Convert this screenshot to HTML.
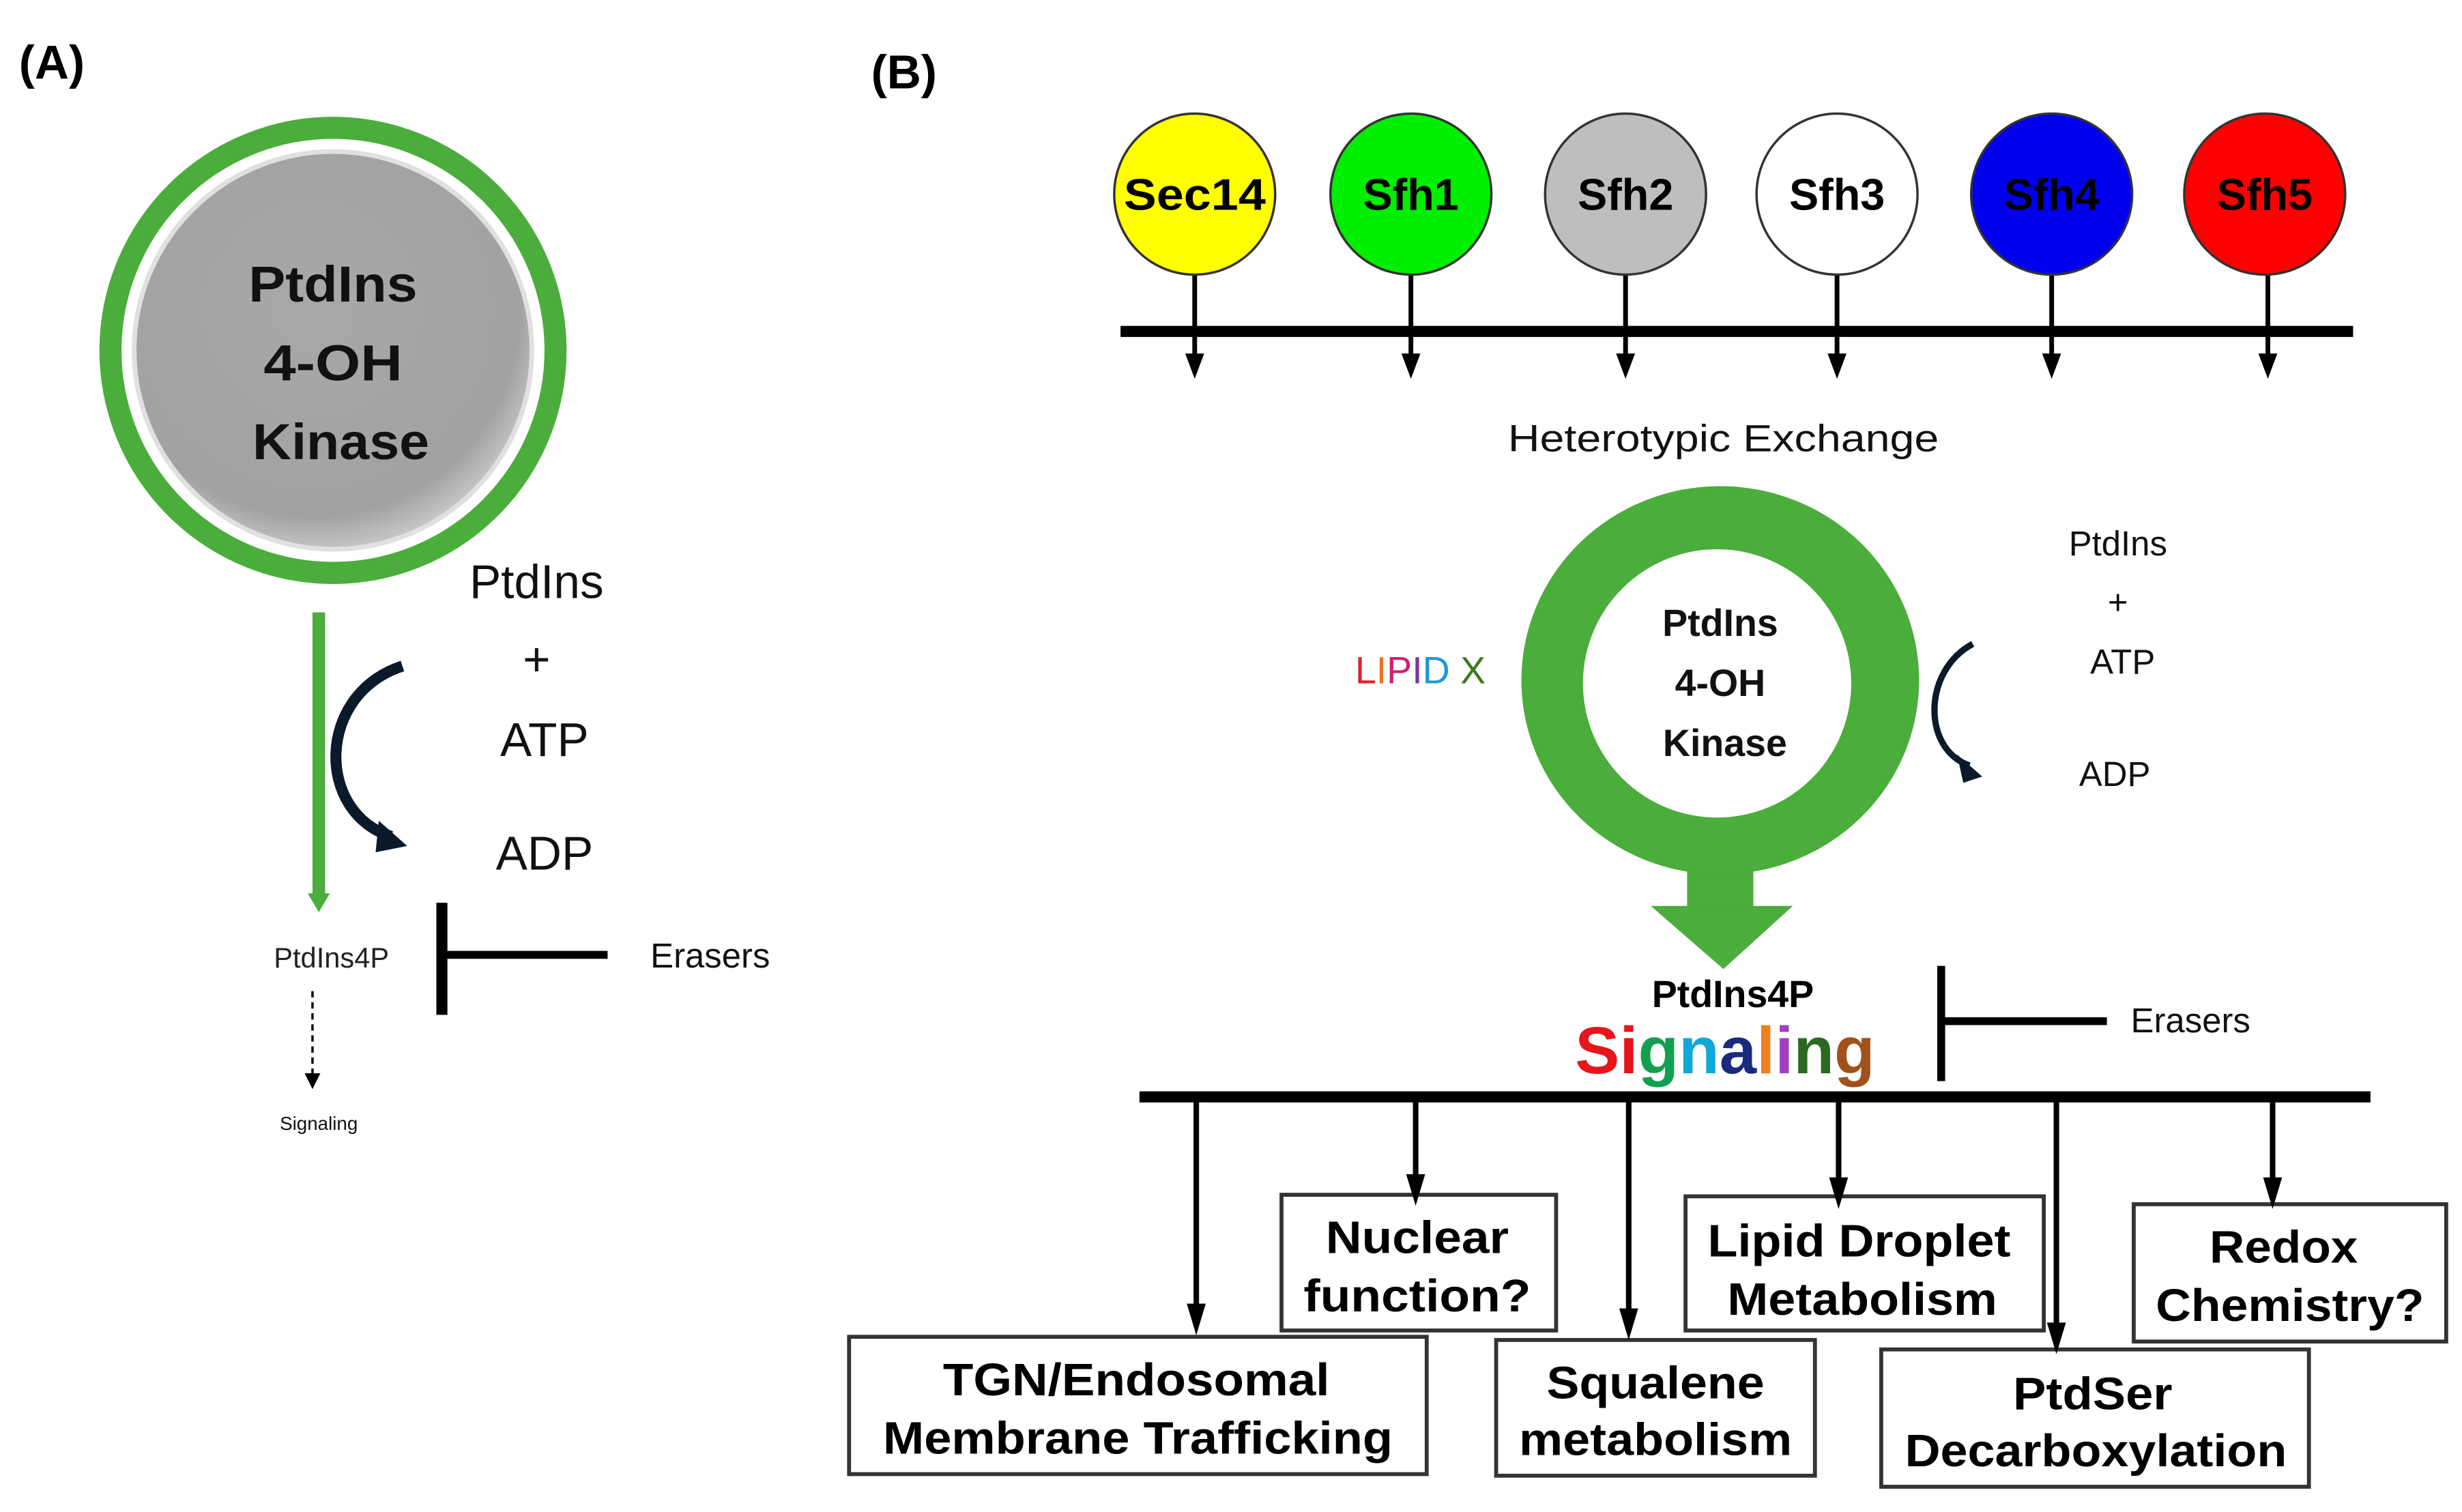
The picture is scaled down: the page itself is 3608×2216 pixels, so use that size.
<!DOCTYPE html>
<html><head><meta charset="utf-8"><style>html,body{margin:0;padding:0;background:#fff}svg{display:block}</style></head>
<body>
<svg width="3608" height="2216" viewBox="0 0 1560 958" preserveAspectRatio="none" xmlns="http://www.w3.org/2000/svg" font-family="Liberation Sans, DejaVu Sans, sans-serif">
<defs>
<radialGradient id="gg" cx="0.45" cy="0.4" r="0.65">
<stop offset="0" stop-color="#a8a8a8"/><stop offset="0.8" stop-color="#a2a2a2"/><stop offset="1" stop-color="#d8d8d8"/>
</radialGradient>
</defs>
<rect width="1560" height="958" fill="#fff"/>

<!-- Panel A -->
<text x="12" y="50" font-size="30" font-weight="bold">(A)</text>
<circle cx="211" cy="222" r="141" fill="none" stroke="#4bad3b" stroke-width="14"/>
<circle cx="211" cy="222" r="126" fill="url(#gg)" stroke="#e0e0e0" stroke-width="3"/>
<g font-size="32" font-weight="bold" text-anchor="middle" fill="#111" lengthAdjust="spacingAndGlyphs">
<text x="211" y="191" textLength="107" lengthAdjust="spacingAndGlyphs">PtdIns</text><text x="211" y="241" textLength="88" lengthAdjust="spacingAndGlyphs">4-OH</text><text x="216" y="291" textLength="112" lengthAdjust="spacingAndGlyphs">Kinase</text></g>
<line x1="202" y1="388" x2="202" y2="568" stroke="#4bad3b" stroke-width="8"/>
<path d="M195,566 L209,566 L202,578 Z" fill="#4bad3b"/>
<path d="M255,422 C200,440 200,515 248,530" fill="none" stroke="#0b1a2a" stroke-width="7"/>
<path d="M240,520 L258,536 L238,540 Z" fill="#0b1a2a"/>
<g font-size="30" text-anchor="middle" fill="#111">
<text x="340" y="379">PtdIns</text><text x="340" y="428">+</text><text x="345" y="479">ATP</text><text x="345" y="551">ADP</text></g>
<text x="210" y="613" font-size="18" text-anchor="middle" fill="#222">PtdIns4P</text>
<line x1="280" y1="572" x2="280" y2="643" stroke="#000" stroke-width="7"/>
<line x1="280" y1="605" x2="385" y2="605" stroke="#000" stroke-width="5"/>
<text x="450" y="613" font-size="22" text-anchor="middle" fill="#111">Erasers</text>
<line x1="198" y1="628" x2="198" y2="680" stroke="#000" stroke-width="1.5" stroke-dasharray="4,3"/>
<path d="M193,680 L203,680 L198,690 Z" fill="#000"/>
<text x="202" y="716" font-size="12" text-anchor="middle" fill="#111">Signaling</text>

<!-- Panel B -->
<text x="552" y="56" font-size="30" font-weight="bold">(B)</text>
<g stroke="#000" stroke-width="3">
<line x1="757" y1="174" x2="757" y2="232"/>
<line x1="894" y1="174" x2="894" y2="232"/>
<line x1="1030" y1="174" x2="1030" y2="232"/>
<line x1="1164" y1="174" x2="1164" y2="232"/>
<line x1="1300" y1="174" x2="1300" y2="232"/>
<line x1="1437" y1="174" x2="1437" y2="232"/>
</g>
<g fill="#000">
<path d="M751,224 L763,224 L757,240 Z"/>
<path d="M888,224 L900,224 L894,240 Z"/>
<path d="M1024,224 L1036,224 L1030,240 Z"/>
<path d="M1158,224 L1170,224 L1164,240 Z"/>
<path d="M1294,224 L1306,224 L1300,240 Z"/>
<path d="M1431,224 L1443,224 L1437,240 Z"/>
</g>
<line x1="710" y1="210" x2="1491" y2="210" stroke="#000" stroke-width="7"/>
<g stroke="#333" stroke-width="1.5">
<circle cx="757" cy="123" r="51" fill="#ffff00"/>
<circle cx="894" cy="123" r="51" fill="#00ee00"/>
<circle cx="1030" cy="123" r="51" fill="#bebebe"/>
<circle cx="1164" cy="123" r="51" fill="#fff"/>
<circle cx="1300" cy="123" r="51" fill="#0000ee"/>
<circle cx="1435" cy="123" r="51" fill="#ff0000"/>
</g>
<g font-size="28" font-weight="bold" text-anchor="middle" fill="#000">
<text x="757" y="133" textLength="90" lengthAdjust="spacingAndGlyphs">Sec14</text><text x="894" y="133">Sfh1</text><text x="1030" y="133">Sfh2</text>
<text x="1164" y="133">Sfh3</text><text x="1300" y="133">Sfh4</text><text x="1435" y="133">Sfh5</text></g>
<text x="1092" y="286" font-size="24" text-anchor="middle" fill="#111" textLength="273" lengthAdjust="spacingAndGlyphs">Heterotypic Exchange</text>

<!-- green ring with arrow -->
<rect x="1069" y="540" width="42" height="36" fill="#4bad3b"/>
<path d="M1046,574 L1136,574 L1092,614 Z" fill="#4bad3b"/>
<ellipse cx="1090" cy="431" rx="126" ry="123" fill="#4bad3b"/>
<ellipse cx="1088" cy="433" rx="85" ry="85" fill="#fff"/>
<g font-size="24" font-weight="bold" text-anchor="middle" fill="#111">
<text x="1090" y="403">PtdIns</text><text x="1090" y="441">4-OH</text><text x="1093" y="479">Kinase</text></g>
<text x="900" y="433" font-size="24" text-anchor="middle"><tspan fill="#e0202a">L</tspan><tspan fill="#f07020">I</tspan><tspan fill="#d02070">P</tspan><tspan fill="#8030a0">I</tspan><tspan fill="#1a9ad8">D</tspan><tspan fill="#3a7a20"> X</tspan></text>
<g font-size="22" text-anchor="middle" fill="#111">
<text x="1342" y="352">PtdIns</text><text x="1342" y="389">+</text><text x="1345" y="427">ATP</text><text x="1340" y="498">ADP</text></g>
<path d="M1250,408 C1218,425 1218,475 1248,485" fill="none" stroke="#0b1a2a" stroke-width="4"/>
<path d="M1240,478 L1256,492 L1244,496 Z" fill="#0b1a2a"/>

<text x="1098" y="638" font-size="24" font-weight="bold" text-anchor="middle" fill="#000">PtdIns4P</text>
<text x="1093" y="680" font-size="42" font-weight="bold" text-anchor="middle" textLength="190" lengthAdjust="spacingAndGlyphs"><tspan fill="#e8141c">S</tspan><tspan fill="#e8141c">i</tspan><tspan fill="#12a050">g</tspan><tspan fill="#10a8d8">n</tspan><tspan fill="#1a2a80">a</tspan><tspan fill="#f08020">l</tspan><tspan fill="#a040c0">i</tspan><tspan fill="#2a6a20">n</tspan><tspan fill="#a0521a">g</tspan></text>
<line x1="1230" y1="612" x2="1230" y2="685" stroke="#000" stroke-width="5"/>
<line x1="1230" y1="647" x2="1335" y2="647" stroke="#000" stroke-width="5"/>
<text x="1388" y="654" font-size="22" text-anchor="middle" fill="#111">Erasers</text>

<line x1="722" y1="695" x2="1502" y2="695" stroke="#000" stroke-width="7"/>
<g stroke="#000" stroke-width="3.5">
<line x1="758" y1="697" x2="758" y2="830"/>
<line x1="897" y1="697" x2="897" y2="748"/>
<line x1="1032" y1="697" x2="1032" y2="833"/>
<line x1="1165" y1="697" x2="1165" y2="750"/>
<line x1="1303" y1="697" x2="1303" y2="842"/>
<line x1="1440" y1="697" x2="1440" y2="750"/>
</g>
<g fill="#fff" stroke="#333" stroke-width="2.5">
<rect x="538" y="847" width="366" height="87"/>
<rect x="812" y="757" width="174" height="86"/>
<rect x="948" y="849" width="202" height="86"/>
<rect x="1068" y="758" width="227" height="85"/>
<rect x="1192" y="855" width="271" height="87"/>
<rect x="1352" y="763" width="198" height="87"/>
</g>
<g fill="#000">
<path d="M752,826 L764,826 L758,846 Z"/>
<path d="M891,744 L903,744 L897,764 Z"/>
<path d="M1026,829 L1038,829 L1032,849 Z"/>
<path d="M1159,746 L1171,746 L1165,766 Z"/>
<path d="M1297,838 L1309,838 L1303,858 Z"/>
<path d="M1434,746 L1446,746 L1440,766 Z"/>
</g>
<g font-size="29" font-weight="bold" text-anchor="middle" fill="#000">
<text x="720" y="884" textLength="245" lengthAdjust="spacingAndGlyphs">TGN/Endosomal</text><text x="721" y="921" textLength="323" lengthAdjust="spacingAndGlyphs">Membrane Trafficking</text>
<text x="898" y="794" textLength="116" lengthAdjust="spacingAndGlyphs">Nuclear</text><text x="898" y="831" textLength="144" lengthAdjust="spacingAndGlyphs">function?</text>
<text x="1049" y="886" textLength="138" lengthAdjust="spacingAndGlyphs">Squalene</text><text x="1049" y="922" textLength="173" lengthAdjust="spacingAndGlyphs">metabolism</text>
<text x="1178" y="796" textLength="192" lengthAdjust="spacingAndGlyphs">Lipid Droplet</text><text x="1180" y="833" textLength="171" lengthAdjust="spacingAndGlyphs">Metabolism</text>
<text x="1326" y="893" textLength="101" lengthAdjust="spacingAndGlyphs">PtdSer</text><text x="1328" y="929" textLength="242" lengthAdjust="spacingAndGlyphs">Decarboxylation</text>
<text x="1447" y="800" textLength="94" lengthAdjust="spacingAndGlyphs">Redox</text><text x="1451" y="837" textLength="170" lengthAdjust="spacingAndGlyphs">Chemistry?</text>
</g>
</svg>
</body></html>
